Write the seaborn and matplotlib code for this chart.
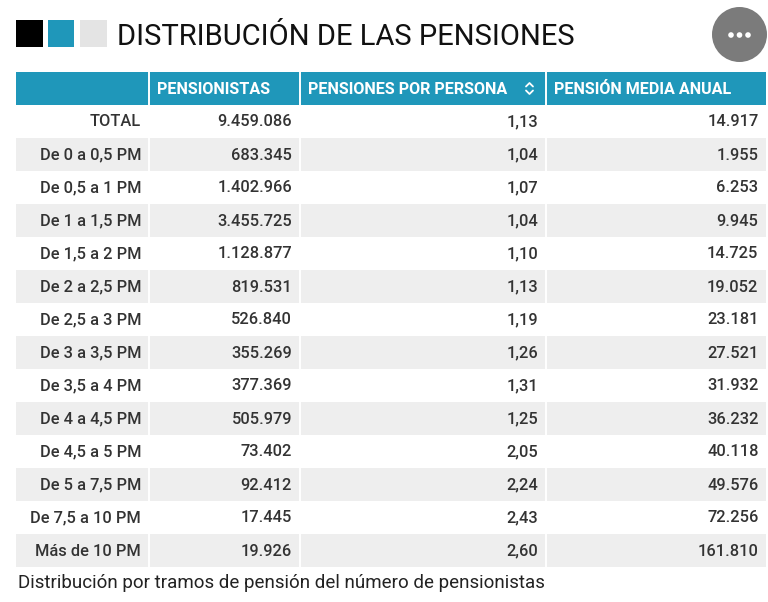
import matplotlib
matplotlib.use("Agg")
import matplotlib.pyplot as plt
import seaborn as sns
from matplotlib.patches import Rectangle, Circle

# data
tramos = ["TOTAL", "De 0 a 0,5 PM", "De 0,5 a 1 PM", "De 1 a 1,5 PM", "De 1,5 a 2 PM",
          "De 2 a 2,5 PM", "De 2,5 a 3 PM", "De 3 a 3,5 PM", "De 3,5 a 4 PM",
          "De 4 a 4,5 PM", "De 4,5 a 5 PM", "De 5 a 7,5 PM", "De 7,5 a 10 PM", "Más de 10 PM"]
pensionistas = [9459086, 683345, 1402966, 3455725, 1128877, 819531, 526840,
                355269, 377369, 505979, 73402, 92412, 17445, 19926]
pensiones_por_persona = [1.13, 1.04, 1.07, 1.04, 1.10, 1.13, 1.19,
                         1.26, 1.31, 1.25, 2.05, 2.24, 2.43, 2.60]
pension_media = [14917, 1955, 6253, 9945, 14725, 19052, 23181,
                 27521, 31932, 36232, 40118, 49576, 72256, 161810]
headers = ["", "PENSIONISTAS", "PENSIONES POR PERSONA", "PENSIÓN MEDIA ANUAL"]
title = "DISTRIBUCIÓN DE LAS PENSIONES"
caption = "Distribución por tramos de pensión del número de pensionistas"


def miles(v):
    return f"{v:,}".replace(",", ".")


def decimal(v):
    return f"{v:.2f}".replace(".", ",")


sns.set_theme(style="white")
plt.rcParams['font.family'] = ['Roboto', 'DejaVu Sans']

TEAL = "#1f97ba"
GRAY = "#eeeeee"
TEXT = "#333333"

fig = plt.figure(figsize=(7.68, 6.02), dpi=100)
ax = fig.add_axes([0, 0, 1, 1])
ax.set_xlim(0, 768)
ax.set_ylim(602, 0)
ax.axis("off")

# title block
for x0, c in zip([16, 47.5, 80], ["#000000", TEAL, "#e4e4e4"]):
    ax.add_patch(Rectangle((x0, 20), 26.5, 27, color=c, lw=0))
ax.text(117, 45, title, fontsize=21, color="#111111", va="baseline", ha="left")

# menu button
ax.add_patch(Circle((739.5, 34.5), 27.5, color="#7b7b7b", lw=0))
for dx in (-8.5, 0, 8.5):
    ax.add_patch(Circle((739.5 + dx, 35), 2.8, color="white", lw=0))

# table
col_edges = [16, 148.5, 299.5, 545.5, 766]
top = 72
row_h = 33
n = len(tramos)

ax.add_patch(Rectangle((col_edges[0], top), col_edges[-1] - col_edges[0], row_h, color=TEAL, lw=0))
for i in range(n):
    y0 = top + row_h * (i + 1)
    if i % 2 == 1:
        ax.add_patch(Rectangle((col_edges[0], y0), col_edges[-1] - col_edges[0], row_h, color=GRAY, lw=0))
table_bottom = top + row_h * (n + 1)
for xe in col_edges[1:-1]:
    ax.plot([xe, xe], [top, table_bottom], color="white", lw=1.4)

for j, h in enumerate(headers):
    if h:
        ax.text(col_edges[j] + 8.5, top + row_h / 2 + 0.5, h, fontsize=11.6, fontweight="bold",
                color="white", ha="left", va="center")

# sort arrows
sx, sy = 529.5, top + row_h / 2
ax.plot([sx - 3.5, sx, sx + 3.5], [sy - 2, sy - 5.5, sy - 2], color="white", lw=1.3)
ax.plot([sx - 3.5, sx, sx + 3.5], [sy + 2, sy + 5.5, sy + 2], color="white", lw=1.3)

for i in range(n):
    yc = top + row_h * (i + 1) + row_h / 2 + 0.5
    cells = [tramos[i], miles(pensionistas[i]), decimal(pensiones_por_persona[i]), miles(pension_media[i])]
    for j, s in enumerate(cells):
        ax.text(col_edges[j + 1] - 7.5, yc, s, fontsize=11.8, fontweight="medium",
                color=TEXT, ha="right", va="center")

ax.text(18, 583, caption, fontsize=13.5, color="#222222", ha="left", va="center")

fig.savefig("out.png", dpi=100)
